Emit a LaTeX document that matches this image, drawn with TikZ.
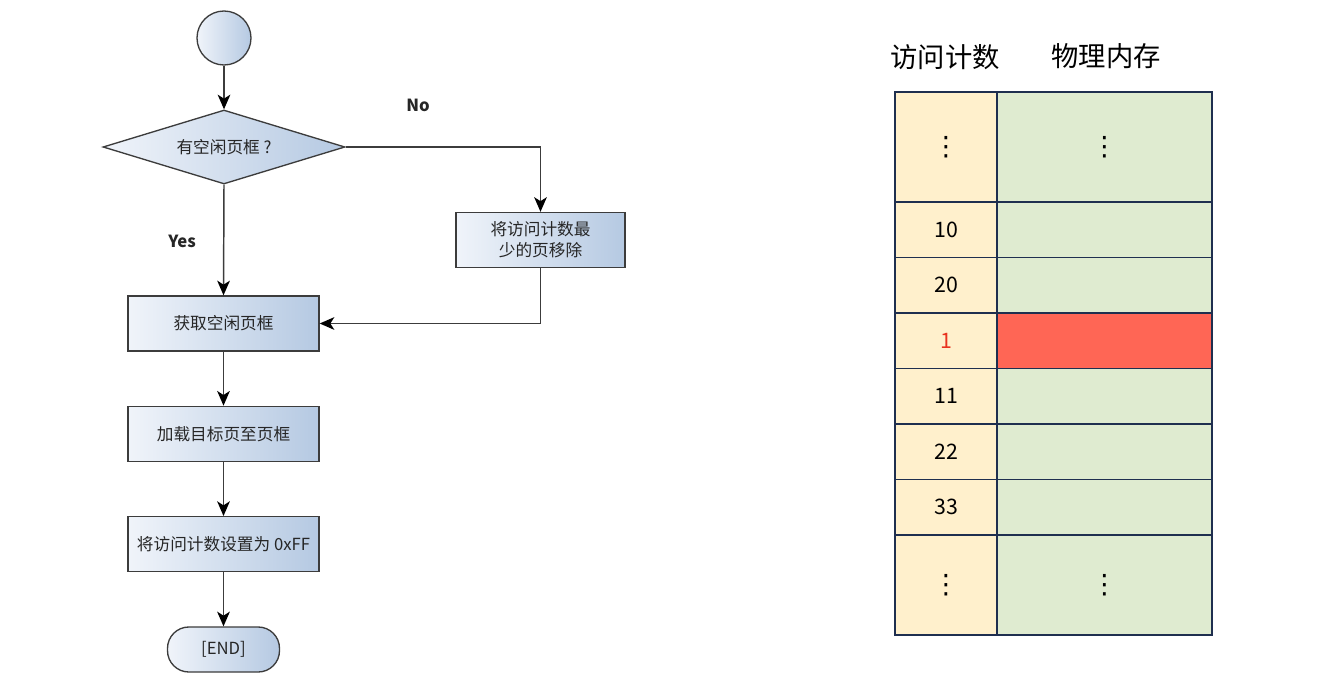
\documentclass[tikz,border=0pt]{standalone}
\usepackage{fontspec}
\setmainfont{Noto Sans CJK SC}
\newfontfamily\dotfont{DejaVu Sans}
\usetikzlibrary{arrows.meta,positioning,shapes.geometric}
\definecolor{ink}{HTML}{262626}
\definecolor{edge}{HTML}{3C3C3C}
\definecolor{boxl}{HTML}{F0F4FA}
\definecolor{boxr}{HTML}{B5C9E2}
\definecolor{navy}{HTML}{1F2F4F}
\definecolor{cntfill}{HTML}{FFF0CC}
\definecolor{memfill}{HTML}{DFEBD0}
\definecolor{hot}{HTML}{FF6655}
\definecolor{hottext}{HTML}{E8321E}
\newcommand\vd{{\dotfont\fontsize{20}{20}\selectfont ⋮}}

\begin{document}
\begin{tikzpicture}[
  x=0.75pt, y=-0.75pt,
  font=\fontsize{12.5}{15.5}\selectfont,
  flow/.style={draw=edge, line width=1pt, left color=boxl, right color=boxr, text=ink},
  proc/.style={flow, rectangle, align=center, minimum width=143.25pt, minimum height=41.25pt, inner sep=2pt},
  arr/.style={-{Stealth[length=11pt,width=9.5pt,inset=3pt,black]}, line width=1.1pt, edge},
  cnt/.style={draw=navy, line width=1.3pt, fill=cntfill, minimum width=76.5pt, inner sep=0pt, font=\fontsize{16}{19}\selectfont},
  mem/.style={draw=navy, line width=1.3pt, minimum width=161.25pt, inner sep=0pt}
]
  \useasboundingbox (0,0) rectangle (1327,684);

  % flowchart
  \node[flow, circle, minimum size=40.5pt, inner sep=0pt] (start) at (224,38) {};
  \node[flow, diamond, aspect=3.3, inner sep=0pt, minimum width=181.5pt, minimum height=55.5pt] (free) at (224,147) {有空闲页框 ?};
  \node[proc, minimum width=126.75pt] (evict) at (540.5,240) {将访问计数最\\少的页移除};
  \node[proc] (get) at (223.5,323.5) {获取空闲页框};
  \node[proc, below=40.5pt of get] (load) {加载目标页至页框};
  \node[proc, below=40.5pt of load] (setcnt) {将访问计数设置为 0xFF};
  \node[flow, rounded corners=16pt, minimum width=84pt, minimum height=33.75pt, below=40.5pt of setcnt] (stop) {[END]};
  \node[font=\fontsize{12.5}{15.5}\selectfont\bfseries, text=ink] (no) at (418,105) {No};
  \node[font=\fontsize{12.5}{15.5}\selectfont\bfseries, text=ink] (yes) at (182,241) {Yes};

  \draw[arr] (start) -- (free);
  \draw[arr] (free.east) -| (evict.north);
  \draw[arr] (free.south) -- (get.north);
  \draw[arr] (evict.south) |- (get.east);
  \draw[arr] (get) -- (load);
  \draw[arr] (load) -- (setcnt);
  \draw[arr] (setcnt) -- (stop);

  % table
  \node[font=\fontsize{20.5}{24}\selectfont] (hcnt) at (945,57) {访问计数};
  \node[font=\fontsize{20.5}{24}\selectfont] (hmem) at (1106,56) {物理内存};
  \foreach \n/\y/\h/\v/\c/\f/\w in {
      1/147/110/\vd/black/memfill/\vd,
      2/229.75/55.5/10/black/memfill/,
      3/285.25/55.5/20/black/memfill/,
      4/340.75/55.5/1/hottext/hot/,
      5/396.25/55.5/11/black/memfill/,
      6/451.75/55.5/22/black/memfill/,
      7/507.25/55.5/33/black/memfill/,
      8/585/100/\vd/black/memfill/\vd} {
    \node[cnt, minimum height=\h*0.75pt, text=\c] (c\n) at (946,\y) {\v};
    \node[mem, minimum height=\h*0.75pt, fill=\f] (m\n) at (1104.5,\y) {\w};
  }
\end{tikzpicture}
\end{document}
